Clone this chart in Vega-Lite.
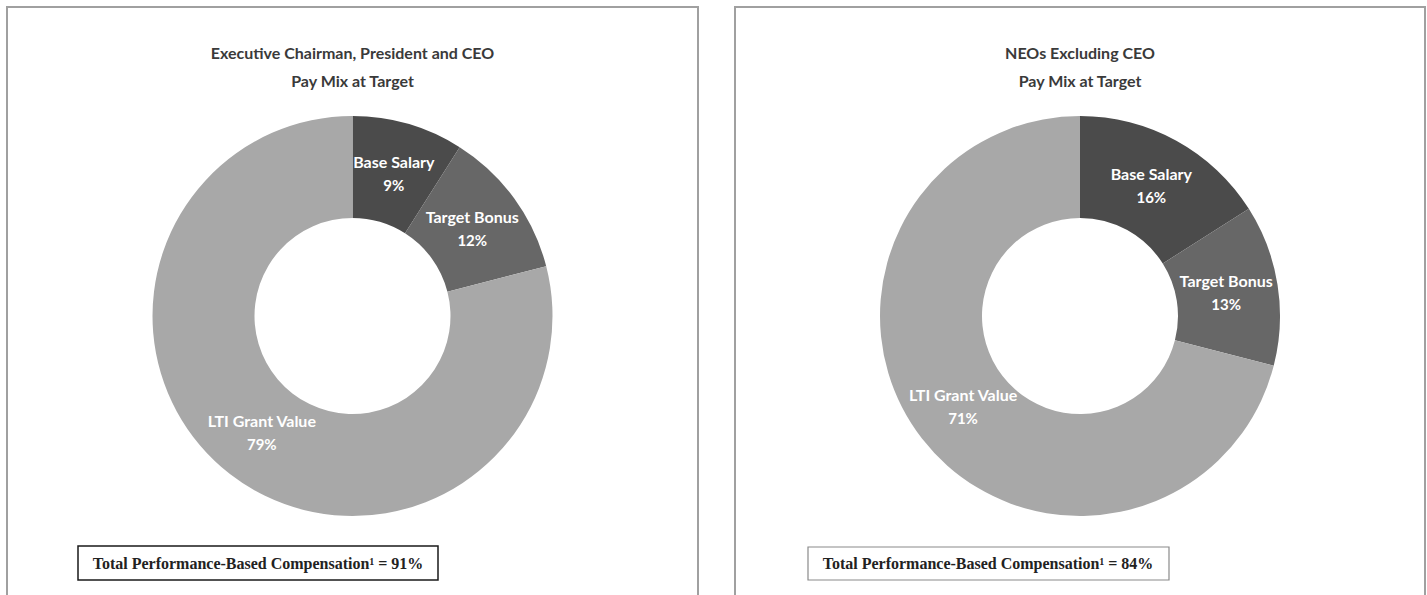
{
  "$schema": "https://vega.github.io/schema/vega-lite/v6.json",
  "padding": {"left": 6, "top": 6, "right": 0, "bottom": 0},
  "background": "white",
  "spacing": 35,
  "config": {
    "view": {"stroke": "#a0a0a0", "strokeWidth": 2},
    "title": {"font": "Lato", "fontSize": 16, "fontWeight": "bold", "color": "#3a3a3a", "lineHeight": 28, "anchor": "middle", "frame": "group"}
  },
  "hconcat": [
    {
      "width": 691,
      "height": 618,
      "title": {"text": ["Executive Chairman, President and CEO", "Pay Mix at Target"], "offset": -83},
      "data": {"values": [
        {"component": "Base Salary", "share": 0.09, "rank": 1},
        {"component": "Target Bonus", "share": 0.12, "rank": 2},
        {"component": "LTI Grant Value", "share": 0.79, "rank": 3}
      ]},
      "layer": [
        {
          "mark": {"type": "arc", "outerRadius": 200, "innerRadius": 98},
          "encoding": {
            "theta": {"field": "share", "type": "quantitative", "stack": true},
            "order": {"field": "rank", "type": "quantitative"},
            "color": {"field": "component", "type": "nominal", "legend": null,
              "scale": {"domain": ["Base Salary", "Target Bonus", "LTI Grant Value"], "range": ["#4b4b4b", "#676767", "#a8a8a8"]}}
          }
        },
        {
          "mark": {"type": "text", "radius": 148, "dy": -11, "font": "Lato", "fontSize": 16, "fontWeight": "bold", "color": "white"},
          "encoding": {
            "theta": {"field": "share", "type": "quantitative", "stack": true},
            "order": {"field": "rank", "type": "quantitative"},
            "text": {"field": "component", "type": "nominal"}
          }
        },
        {
          "mark": {"type": "text", "radius": 148, "dy": 12, "font": "Lato", "fontSize": 15, "fontWeight": "bold", "color": "white"},
          "encoding": {
            "theta": {"field": "share", "type": "quantitative", "stack": true},
            "order": {"field": "rank", "type": "quantitative"},
            "text": {"field": "share", "type": "quantitative", "format": ".0%"}
          }
        },
        {
          "data": {"values": [{"note": "Total Performance-Based Compensation¹ = 91%"}]},
          "mark": {"type": "rect", "fill": "white", "stroke": "#1a1a1a", "strokeWidth": 1.5},
          "encoding": {"x": {"value": 71}, "x2": {"value": 431}, "y": {"value": 539}, "y2": {"value": 573}}
        },
        {
          "data": {"values": [{"note": "Total Performance-Based Compensation¹ = 91%"}]},
          "mark": {"type": "text", "font": "Liberation Serif", "fontSize": 16, "fontWeight": "bold", "color": "#222222", "align": "center", "baseline": "middle"},
          "encoding": {"x": {"value": 251}, "y": {"value": 557}, "text": {"field": "note", "type": "nominal"}}
        }
      ]
    },
    {
      "width": 690,
      "height": 618,
      "title": {"text": ["NEOs Excluding CEO", "Pay Mix at Target"], "offset": -83},
      "data": {"values": [
        {"component": "Base Salary", "share": 0.16, "rank": 1},
        {"component": "Target Bonus", "share": 0.13, "rank": 2},
        {"component": "LTI Grant Value", "share": 0.71, "rank": 3}
      ]},
      "layer": [
        {
          "mark": {"type": "arc", "outerRadius": 200, "innerRadius": 98},
          "encoding": {
            "theta": {"field": "share", "type": "quantitative", "stack": true},
            "order": {"field": "rank", "type": "quantitative"},
            "color": {"field": "component", "type": "nominal", "legend": null,
              "scale": {"domain": ["Base Salary", "Target Bonus", "LTI Grant Value"], "range": ["#4b4b4b", "#676767", "#a8a8a8"]}}
          }
        },
        {
          "mark": {"type": "text", "radius": 148, "dy": -11, "font": "Lato", "fontSize": 16, "fontWeight": "bold", "color": "white"},
          "encoding": {
            "theta": {"field": "share", "type": "quantitative", "stack": true},
            "order": {"field": "rank", "type": "quantitative"},
            "text": {"field": "component", "type": "nominal"}
          }
        },
        {
          "mark": {"type": "text", "radius": 148, "dy": 12, "font": "Lato", "fontSize": 15, "fontWeight": "bold", "color": "white"},
          "encoding": {
            "theta": {"field": "share", "type": "quantitative", "stack": true},
            "order": {"field": "rank", "type": "quantitative"},
            "text": {"field": "share", "type": "quantitative", "format": ".0%"}
          }
        },
        {
          "data": {"values": [{"note": "Total Performance-Based Compensation¹ = 84%"}]},
          "mark": {"type": "rect", "fill": "white", "stroke": "#8a8a8a", "strokeWidth": 1.2},
          "encoding": {"x": {"value": 73}, "x2": {"value": 434}, "y": {"value": 540}, "y2": {"value": 573}}
        },
        {
          "data": {"values": [{"note": "Total Performance-Based Compensation¹ = 84%"}]},
          "mark": {"type": "text", "font": "Liberation Serif", "fontSize": 16, "fontWeight": "bold", "color": "#222222", "align": "center", "baseline": "middle"},
          "encoding": {"x": {"value": 253}, "y": {"value": 557}, "text": {"field": "note", "type": "nominal"}}
        }
      ]
    }
  ]
}
